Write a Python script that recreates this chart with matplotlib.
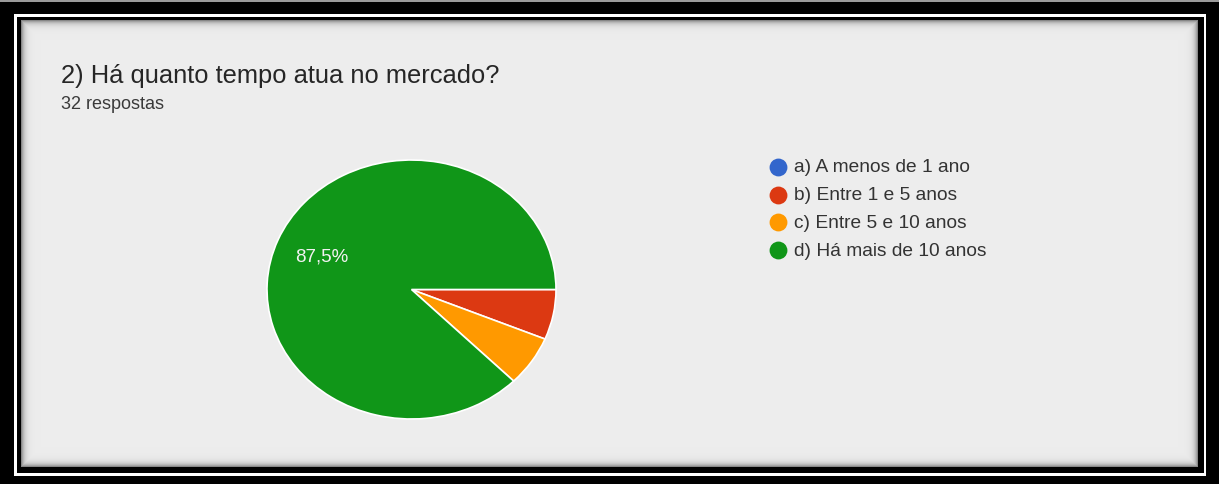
import numpy as np
import matplotlib.pyplot as plt
from matplotlib.patches import Rectangle

plt.rcParams['font.family'] = ['Liberation Sans', 'DejaVu Sans']

title = '2) Há quanto tempo atua no mercado?'
subtitle = '32 respostas'
labels = ['a) A menos de 1 ano', 'b) Entre 1 e 5 anos', 'c) Entre 5 e 10 anos', 'd) Há mais de 10 anos']
counts = [0, 2, 2, 28]
colors = ['#3366cc', '#dc3912', '#ff9900', '#109618']

W, H = 1219, 485
fig = plt.figure(figsize=(W / 100, H / 100), dpi=100)
fig.patch.set_facecolor('black')

bg = fig.add_axes([0, 0, 1, 1])
bg.set_xlim(0, W)
bg.set_ylim(H, 0)
bg.axis('off')

# double black frame with a thin white line between
bg.add_patch(Rectangle((0, 0), W, 3, color='#9a9a9a', lw=0))
bg.add_patch(Rectangle((14, 15), 1206 - 14, 477 - 15, color='white', lw=0))
bg.add_patch(Rectangle((16.5, 17.5), 1204 - 16.5, 474 - 17.5, color='black', lw=0))

# light grey card with a soft inner shadow
x0, x1, y0, y1 = 21, 1198, 21, 468
yy, xx = np.mgrid[0:y1 - y0, 0:x1 - x0]
d = np.minimum.reduce([xx, yy, (x1 - x0 - 1) - xx, (y1 - y0 - 1) - yy]).astype(float)
shade = 0.93 - 0.4 * np.exp(-d / 3.0)
bg.imshow(np.dstack([shade] * 3), extent=(x0, x1, y1, y0), interpolation='bilinear', zorder=1)

bg.text(61, 83, title, fontsize=18.4, color='#262626', zorder=3)
bg.text(61, 109, subtitle, fontsize=13, color='#3a3a3a', zorder=3)

# legend
for i, (lab, col) in enumerate(zip(labels, colors)):
    y = 168 + i * 27.7
    bg.scatter([778], [y], s=165, color=col, zorder=3, lw=0)
    bg.text(794, y, lab, fontsize=13.8, color='#333333', va='center', zorder=3)

# pie, stretched horizontally
pie_ax = fig.add_axes([267 / W, 1 - 420 / H, (556 - 267) / W, (420 - 161) / H])


def pct_label(p):
    return f'{p:.1f}%'.replace('.', ',') if p > 10 else ''


pie_ax.pie(counts, colors=colors, startangle=0, counterclock=False, radius=1,
           autopct=pct_label, pctdistance=0.67,
           wedgeprops=dict(edgecolor='white', linewidth=1.2),
           textprops=dict(color='#f2f2f2', fontsize=13.5))
pie_ax.set_aspect('auto')
pie_ax.set_xlim(-1, 1)
pie_ax.set_ylim(-1, 1)
pie_ax.axis('off')

fig.savefig('out.png', dpi=100, facecolor=fig.get_facecolor())
